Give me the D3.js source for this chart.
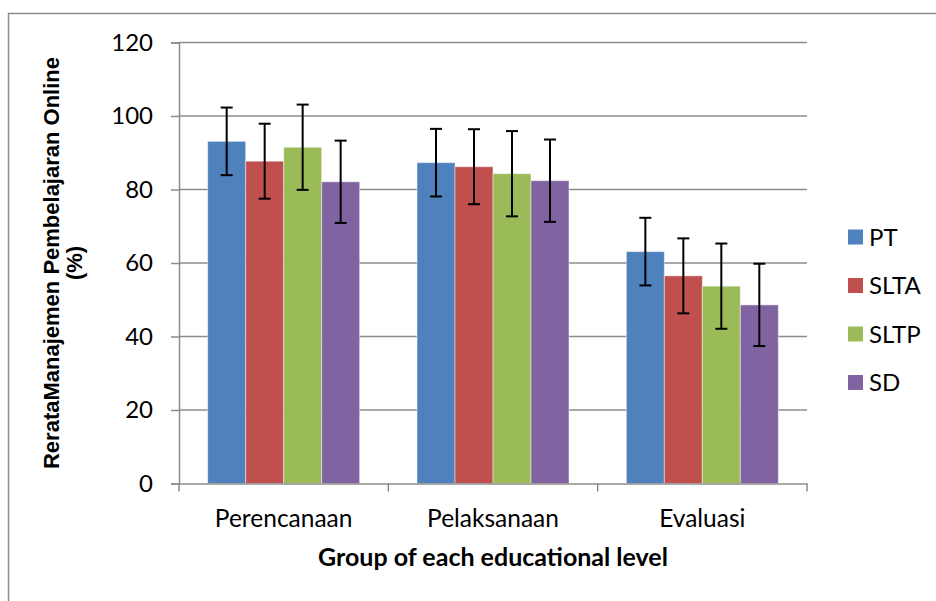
<!DOCTYPE html>
<html>
<head>
<meta charset="utf-8">
<style>
  body, html { margin: 0px; background: #fff; }
  svg { display: block; }
</style>
<script src="https://cdn.jsdelivr.net/npm/d3@7"></script>
</head>
<body>
<svg id="chart" width="936" height="601"></svg>
<script>
  // data
  var categories = ["Perencanaan", "Pelaksanaan", "Evaluasi"];
  var seriesNames = ["PT", "SLTA", "SLTP", "SD"];
  var colors = ["#4F81BD", "#C0504D", "#9BBB59", "#8064A2"];
  var valPT   = [93.1, 87.3, 63.1];
  var valSLTA = [87.7, 86.2, 56.5];
  var valSLTP = [91.5, 84.3, 53.7];
  var valSD   = [82.1, 82.4, 48.6];
  var errPT   = [9.2, 9.2, 9.2];
  var errSLTA = [10.2, 10.2, 10.2];
  var errSLTP = [11.6, 11.6, 11.6];
  var errSD   = [11.2, 11.2, 11.2];
  var yTicks = [0, 20, 40, 60, 80, 100, 120];

  var values = [valPT, valSLTA, valSLTP, valSD];
  var errors = [errPT, errSLTA, errSLTP, errSD];

  var svg = d3.select("#chart");
  var pLeft = 179, pRight = 807, pTop = 42.5, pBottom = 483.5;
  var font = "Lato, 'Open Sans', sans-serif";

  // outer frame (only left and top edges show)
  svg.append("path")
    .attr("d", "M8.5,601V13.5H936")
    .attr("fill", "none")
    .attr("stroke", "#8c8c8c")
    .attr("stroke-width", 1.5);

  var x0 = d3.scaleBand().domain(categories).range([pLeft, pRight]).padding(0);
  var x1 = d3.scaleBand().domain(seriesNames).range([0, x0.bandwidth()])
    .paddingInner(0).paddingOuter(0.755);
  var y = d3.scaleLinear().domain([0, 120]).range([pBottom, pTop]);

  // gridlines
  svg.append("g").selectAll("line").data(yTicks.slice(1)).enter()
    .append("line")
    .attr("x1", pLeft).attr("x2", pRight)
    .attr("y1", function(d){ return y(d); })
    .attr("y2", function(d){ return y(d); })
    .attr("stroke", "#8c8c8c").attr("stroke-width", 1.5);

  // y axis
  var yAxis = svg.append("g")
    .attr("transform", "translate(" + pLeft + ",0)")
    .call(d3.axisLeft(y).tickValues(yTicks).tickSize(8).tickPadding(18));
  yAxis.select(".domain").attr("stroke", "#8c8c8c").attr("stroke-width", 1.5);
  yAxis.selectAll(".tick line").attr("stroke", "#8c8c8c").attr("stroke-width", 1.5);
  yAxis.selectAll("text")
    .style("font-family", font)
    .style("font-size", "24px")
    .attr("fill", "#000");

  // bars
  var groups = svg.append("g").selectAll("g").data(categories).enter()
    .append("g")
    .attr("transform", function(d){ return "translate(" + x0(d) + ",0)"; });

  groups.each(function(cat, ci) {
    var g = d3.select(this);
    seriesNames.forEach(function(s, si) {
      var v = values[si][ci];
      g.append("rect")
        .attr("x", x1(s))
        .attr("y", y(v))
        .attr("width", x1.bandwidth())
        .attr("height", y(0) - y(v))
        .attr("fill", colors[si])
        .attr("stroke", "rgba(255,255,255,0.45)")
        .attr("stroke-width", 1);
    });
  });

  // x axis
  var xAxis = svg.append("g")
    .attr("transform", "translate(0," + pBottom + ")")
    .call(d3.axisBottom(x0).tickSize(0).tickPadding(26));
  xAxis.select(".domain").attr("stroke", "#8c8c8c").attr("stroke-width", 1.5);
  xAxis.selectAll("text")
    .style("font-family", font)
    .style("font-size", "24.5px")
    .attr("fill", "#000");
  var bounds = categories.map(function(c){ return x0(c); }).concat([pRight]);
  xAxis.selectAll(".sep").data(bounds).enter()
    .append("line")
    .attr("x1", function(d){ return d; }).attr("x2", function(d){ return d; })
    .attr("y1", 0).attr("y2", 8)
    .attr("stroke", "#8c8c8c").attr("stroke-width", 1.5);

  // error bars
  groups.each(function(cat, ci) {
    var g = d3.select(this);
    seriesNames.forEach(function(s, si) {
      var v = values[si][ci], e = errors[si][ci];
      var cx = x1(s) + x1.bandwidth() / 2;
      g.append("line")
        .attr("x1", cx).attr("x2", cx)
        .attr("y1", y(v + e)).attr("y2", y(v - e))
        .attr("stroke", "#000").attr("stroke-width", 2);
      [v + e, v - e].forEach(function(t) {
        g.append("line")
          .attr("x1", cx - 6).attr("x2", cx + 6)
          .attr("y1", y(t)).attr("y2", y(t))
          .attr("stroke", "#000").attr("stroke-width", 2);
      });
    });
  });

  // axis titles
  svg.append("text")
    .attr("x", (pLeft + pRight) / 2).attr("y", 566)
    .attr("text-anchor", "middle")
    .style("font-family", font)
    .style("font-weight", "bold")
    .style("font-size", "25px")
    .text("Group of each educational level");

  var yt = svg.append("text")
    .attr("transform", "translate(58.5," + ((pTop + pBottom) / 2) + ") rotate(-90)")
    .attr("text-anchor", "middle")
    .style("font-family", "'Liberation Sans', Arial, sans-serif")
    .style("font-weight", "bold")
    .style("font-size", "22px");
  yt.append("tspan").attr("x", 0).attr("y", 0).text("RerataManajemen Pembelajaran Online");
  yt.append("tspan").attr("x", 0).attr("y", 23).text("(%)");

  // legend
  var legend = svg.append("g").selectAll("g").data(seriesNames).enter()
    .append("g")
    .attr("transform", function(d, i){ return "translate(848," + (237 + i * 48.5) + ")"; });
  legend.append("rect")
    .attr("x", 0).attr("y", -7.5).attr("width", 15).attr("height", 15)
    .attr("fill", function(d, i){ return colors[i]; });
  legend.append("text")
    .attr("x", 21).attr("y", 0).attr("dy", "0.36em")
    .style("font-family", font)
    .style("font-size", "24px")
    .text(function(d){ return d; });
</script>
</body>
</html>
